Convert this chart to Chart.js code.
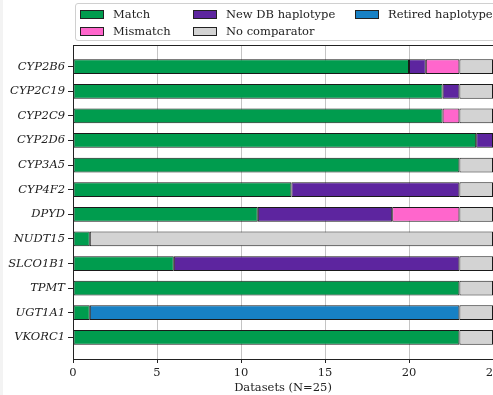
<!DOCTYPE html>
<html>
<head>
<meta charset="utf-8">
<script src="https://cdn.jsdelivr.net/npm/chart.js@4"></script>
<style>
  html, body { margin: 0; padding: 0; background: #fff; overflow: hidden; }
  body { width: 493px; height: 395px; position: relative; }
  .edge { position: absolute; left: 0; top: 0; width: 3px; height: 395px; background: #f3f3f3; }
  #wrap { position: absolute; left: 0; top: 0; width: 520px; height: 395px; }
  .legend {
    position: absolute; left: 75px; top: 3px; width: 440px; height: 36px;
    border: 1px solid #d0d0d0; border-radius: 3px; background: rgba(255,255,255,0.85);
    font-family: "DejaVu Serif", serif; font-size: 11.5px; color: #222;
  }
  .item { position: absolute; height: 16px; line-height: 16px; white-space: nowrap; }
  .sw { position: absolute; left: 0; top: 4px; width: 22px; height: 7px; border: 1px solid #222; }
  .lbl { position: absolute; left: 33px; top: 0; }
</style>
</head>
<body>
<div class="edge"></div>
<div id="wrap"><canvas id="c" width="520" height="395"></canvas></div>
<div class="legend" id="legend"></div>
<script>
// Genes (top to bottom) and the count of datasets in each outcome
const genes = ["CYP2B6","CYP2C19","CYP2C9","CYP2D6","CYP3A5","CYP4F2","DPYD","NUDT15","SLCO1B1","TPMT","UGT1A1","VKORC1"];
const matchCounts     = [20, 22, 22, 24, 23, 13, 11, 1,  6, 23,  1, 23];
const newDbCounts     = [ 1,  1,  0,  1,  0, 10,  8, 0, 17,  0,  0,  0];
const retiredCounts   = [ 0,  0,  0,  0,  0,  0,  0, 0,  0,  0, 22,  0];
const mismatchCounts  = [ 2,  0,  1,  0,  0,  0,  4, 0,  0,  0,  0,  0];
const noCompCounts    = [ 2,  2,  2,  0,  2,  2,  2, 24, 2,  2,  2,  2];
const xTicks = [0, 5, 10, 15, 20, 25];
const xTitle = "Datasets (N=25)";

const colors = {
  match: "#009c4e",
  mismatch: "#ff66cc",
  newdb: "#5d259f",
  nocomp: "#d3d3d3",
  retired: "#1781c5"
};

// stacking order of the segments along each bar
const series = [
  { label: "Match", values: matchCounts, color: colors.match },
  { label: "New DB haplotype", values: newDbCounts, color: colors.newdb },
  { label: "Retired haplotype", values: retiredCounts, color: colors.retired },
  { label: "Mismatch", values: mismatchCounts, color: colors.mismatch },
  { label: "No comparator", values: noCompCounts, color: colors.nocomp }
];

// legend entries, laid out in three columns
const legendItems = [
  { label: "Match", color: colors.match, col: 0, row: 0 },
  { label: "Mismatch", color: colors.mismatch, col: 0, row: 1 },
  { label: "New DB haplotype", color: colors.newdb, col: 1, row: 0 },
  { label: "No comparator", color: colors.nocomp, col: 1, row: 1 },
  { label: "Retired haplotype", color: colors.retired, col: 2, row: 0 }
];
const colX = [4, 117, 279];
const leg = document.getElementById("legend");
legendItems.forEach(it => {
  const d = document.createElement("div");
  d.className = "item";
  d.style.left = colX[it.col] + "px";
  d.style.top = (2 + it.row * 17) + "px";
  d.innerHTML = '<span class="sw" style="background:' + it.color + '"></span><span class="lbl"></span>';
  d.querySelector(".lbl").textContent = it.label;
  leg.appendChild(d);
});

const serif = "'DejaVu Serif', serif";

const datasets = series.map(s => ({
  label: s.label,
  data: s.values.map((v, i) => ({ x: v, y: i })),
  backgroundColor: s.color,
  borderColor: "#1a1a1a",
  borderWidth: 1,
  borderSkipped: false,
  barPercentage: 0.6,
  categoryPercentage: 1.0
}));

// outline around the plotting area
const frame = {
  id: "frame",
  afterDatasetsDraw(chart) {
    const a = chart.chartArea, ctx = chart.ctx;
    ctx.save();
    ctx.strokeStyle = "#222";
    ctx.lineWidth = 1;
    ctx.strokeRect(Math.round(a.left) + 0.5, Math.round(a.top) + 0.5,
                   Math.round(a.right - a.left), Math.round(a.bottom - a.top));
    ctx.restore();
  }
};

new Chart(document.getElementById("c"), {
  type: "bar",
  data: { datasets },
  plugins: [frame],
  options: {
    indexAxis: "y",
    responsive: false,
    animation: false,
    layout: { padding: { top: 45, right: 27, left: 0, bottom: 0 } },
    plugins: { legend: { display: false }, tooltip: { enabled: false } },
    scales: {
      x: {
        type: "linear",
        stacked: true,
        min: 0, max: 25,
        offset: false,
        afterBuildTicks: sc => { sc.ticks = xTicks.map(v => ({ value: v })); },
        ticks: { font: { family: serif, size: 11.5 }, color: "#222", padding: 3, maxRotation: 0 },
        grid: { color: "#c4c4c4", lineWidth: 1, tickColor: "#222", tickLength: 4, offset: false },
        border: { display: false },
        title: { display: true, text: xTitle, font: { family: serif, size: 11.5 }, color: "#222", padding: { top: 0, bottom: 0 } },
        afterFit: sc => { sc.height = 36; }
      },
      y: {
        type: "linear",
        stacked: true,
        reverse: true,
        offset: false,
        min: -0.88, max: genes.length - 1 + 0.88,
        afterBuildTicks: sc => { sc.ticks = genes.map((g, i) => ({ value: i })); },
        ticks: {
          font: { family: serif, size: 11.5, style: "italic" }, color: "#222", padding: 3,
          callback: v => genes[v]
        },
        grid: { drawOnChartArea: false, tickColor: "#222", tickLength: 5, offset: false },
        border: { display: false },
        afterFit: sc => { sc.width = 73; }
      }
    }
  }
});
</script>
</body>
</html>
